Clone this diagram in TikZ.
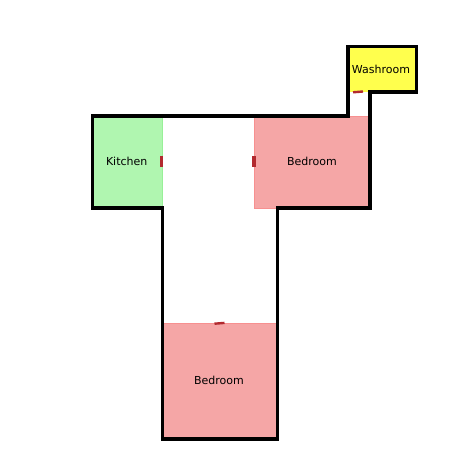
\documentclass[tikz,border=0pt]{standalone}
\usepackage{fontspec}
\setmainfont{DejaVu Sans}
\definecolor{kitchenfill}{HTML}{B0F6B0}
\definecolor{kitchenedge}{HTML}{98F098}
\definecolor{bedfill}{HTML}{F5A6A6}
\definecolor{bededge}{HTML}{F79090}
\definecolor{washfill}{HTML}{FFFF4D}
\definecolor{doorred}{HTML}{B22A2F}
\tikzset{
  wall/.style={draw=black,line width=3.2pt,line join=miter,line cap=round},
  doorpiece/.style={draw=doorred,line width=3.2pt},
  roomlabel/.style={font=\fontsize{11pt}{12pt}\selectfont,text=black,inner sep=0pt},
}
\begin{document}
\begin{tikzpicture}[x=1pt,y=-1pt]
\useasboundingbox (0,0) rectangle (462,462);
\fill[white] (0,0) rectangle (462,462);
% room fills
\path[fill=kitchenfill,draw=kitchenedge,line width=0.6pt] (93,116) rectangle (162.3,208);
\path[fill=bedfill,draw=bededge,line width=0.6pt] (254,116) rectangle (370,208);
\path[fill=bedfill,draw=bededge,line width=0.6pt] (162,323) rectangle (277,439);
\path[fill=washfill] (348,46) rectangle (416,92);
% labels
\node[roomlabel] (kitchen) at (126.7,161.7) {Kitchen};
\node[roomlabel] (bed1) at (312,161.7) {Bedroom};
\node[roomlabel] (bed2) at (219,380.7) {Bedroom};
\node[roomlabel] (wash) at (381,69) {Washroom};
% walls
\draw[wall] (92.5,116) -- (348,116) -- (348,46.3) -- (416.3,46.3) -- (416.3,92) -- (370,92) -- (370,208) -- (277.3,208) -- (277.3,439) -- (162.5,439) -- (162.5,208) -- (92.5,208) -- cycle;
% doors
\draw[doorpiece] (161.3,156) -- (161.3,167);
\draw[doorpiece] (254,156) -- (254,167);
\draw[doorpiece,line width=2.4pt] (353,92.3) -- (363,91.5);
\draw[doorpiece,line width=2.4pt] (214.5,323.7) -- (224.5,322.9);
\end{tikzpicture}
\end{document}
